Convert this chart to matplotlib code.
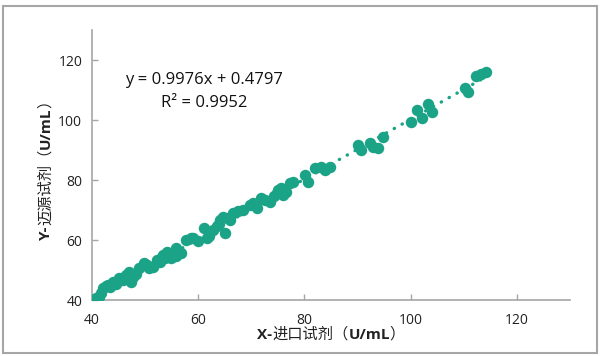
import numpy as np
import matplotlib
matplotlib.use("Agg")
import matplotlib.pyplot as plt
from matplotlib.patches import Rectangle

# readings of the scatter (X = imported reagent, Y = Maiyuan reagent), U/mL
x_vals = [40.8, 41.7, 42.0, 42.6, 43.0, 43.9, 44.5, 45.1, 45.8, 46.4, 47.0, 47.3,
          47.8, 48.9, 49.8, 50.3, 50.8, 51.5, 52.3, 53.3, 53.8, 54.2, 54.9, 55.3,
          55.8, 56.8, 57.7, 58.6, 59.1, 60.0, 61.0, 61.6, 62.8, 63.5, 64.1, 64.7,
          65.0, 65.6, 66.6, 67.5, 68.5, 69.7, 70.3, 71.0, 71.9, 73.5, 74.2, 75.1,
          75.6, 76.0, 77.3, 77.9, 80.1, 80.7, 82.0, 83.2, 83.9, 84.8, 90.1, 90.7,
          92.3, 92.9, 93.9, 94.8, 100.0, 101.1, 102.1, 103.2, 104.1, 110.2, 110.8,
          112.3, 113.3, 114.2,
          41.3, 43.4, 46.9, 48.2, 52.8, 53.1, 54.6, 55.9, 62.1, 63.9, 66.0, 72.6,
          74.8, 76.6]
y_vals = [40.6, 42.2, 43.9, 44.8, 45.0, 45.9, 45.3, 47.4, 46.8, 48.3, 49.4, 46.1,
          47.6, 50.6, 52.2, 51.8, 50.8, 51.0, 53.3, 55.0, 54.0, 56.1, 53.9, 55.8,
          57.2, 55.6, 60.0, 60.6, 60.6, 59.8, 63.9, 60.6, 63.3, 64.8, 66.7, 67.8,
          62.2, 67.2, 68.9, 69.6, 70.0, 71.7, 72.2, 70.6, 73.9, 72.8, 74.6, 76.7,
          77.2, 75.0, 78.9, 79.4, 81.7, 79.4, 83.9, 84.4, 83.3, 84.4, 91.7, 90.0,
          92.2, 91.1, 90.6, 94.4, 99.4, 103.3, 100.6, 105.3, 102.6, 110.6, 109.4,
          114.8, 115.2, 116.1,
          41.0, 44.2, 47.2, 48.6, 52.7, 54.2, 55.0, 54.7, 61.5, 65.2, 66.6, 73.4,
          75.8, 76.0]
slope = 0.9976
intercept = 0.4797
eq_lines = ["y = 0.9976x + 0.4797", "R² = 0.9952"]
x_ticks = [40, 60, 80, 100, 120]
y_ticks = [40, 60, 80, 100, 120]
xlabel_parts = [("X-", "bold"), ("进口试剂（", "normal"), ("U/mL", "bold"), ("）", "normal")]
ylabel_parts = [("Y-", "bold"), ("迈源试剂（", "normal"), ("U/mL", "bold"), ("）", "normal")]

GREEN = "#1ba387"
GREY = "#a6a6a6"
FONTS = ["Open Sans", "Noto Sans CJK SC", "DejaVu Sans"]
plt.rcParams["font.family"] = FONTS

W, H = 600, 356
fig = plt.figure(figsize=(6, 3.56), dpi=100)
ax = fig.add_axes([92 / W, 1 - 300 / H, (570 - 92) / W, (300 - 30) / H])

ax.scatter(x_vals, y_vals, s=68, color=GREEN, linewidths=0, zorder=3)
xl = np.array([min(x_vals), max(x_vals)])
ax.plot(xl, slope * xl + intercept, color=GREEN, lw=2.4,
        linestyle=(0, (0.1, 2.6)), dash_capstyle="round", zorder=2)

ax.set_xlim(40, 130)
ax.set_ylim(40, 130)
ax.set_xticks(x_ticks)
ax.set_yticks(y_ticks)
for side in ["top", "right"]:
    ax.spines[side].set_visible(False)
for side in ["left", "bottom"]:
    ax.spines[side].set_color(GREY)
    ax.spines[side].set_linewidth(1.2)
ax.tick_params(direction="in", length=4, width=1, color=GREY,
               labelsize=10, labelcolor="#222222")
ax.tick_params(axis="y", pad=7)
ax.tick_params(axis="x", pad=9)

ax.text(61.1, 112, eq_lines[0], fontsize=12, ha="center", va="baseline", color="#111111")
ax.text(61.1, 104.3, eq_lines[1], fontsize=12, ha="center", va="baseline", color="#111111")

# axis titles built from pieces so that only the latin part is bold
renderer = fig.canvas.get_renderer()


def put_label(parts, cx, cy, vertical):
    texts = []
    for s, w in parts:
        t = fig.text(0, 0, s, fontsize=11, fontweight=w, color="#222222",
                     rotation=90 if vertical else 0, rotation_mode="anchor",
                     ha="left", va="baseline")
        texts.append(t)
    sizes = []
    for t in texts:
        bb = t.get_window_extent(renderer)
        sizes.append(bb.height if vertical else bb.width)
    total = sum(sizes)
    pos = (cy if vertical else cx) - total / 2
    for t, sz in zip(texts, sizes):
        if vertical:
            t.set_position((cx / W, pos / H))
        else:
            t.set_position((pos / W, cy / H))
        pos += sz


put_label(xlabel_parts, 331, H - 339, False)
put_label(ylabel_parts, 50, H - 166, True)

fig.patches.append(Rectangle((3 / W, 3 / H), 594 / W, 347 / H, transform=fig.transFigure,
                             fill=False, edgecolor=GREY, lw=1.5))

fig.savefig("out.png", dpi=100)
